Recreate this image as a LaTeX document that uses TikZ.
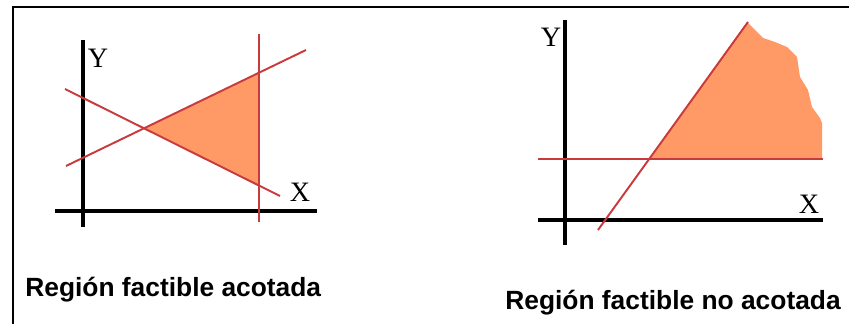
\documentclass[tikz,border=0pt]{standalone}
\usepackage{fontspec}
\setmainfont{Liberation Serif}
\newfontfamily\labelfont{Liberation Sans}
\definecolor{regcol}{HTML}{FF9966}
\definecolor{rectcol}{HTML}{C83A3C}
\begin{document}
\begin{tikzpicture}[x=0.02cm,y=-0.02cm,
  eje/.style={line width=2.2pt,color=black},
  recta/.style={line width=1.1pt,color=rectcol},
  nomeje/.style={font=\fontsize{16}{18}\selectfont,inner sep=0pt},
  titulo/.style={font=\labelfont\bfseries\fontsize{15}{18}\selectfont,inner sep=0pt}]
  \useasboundingbox (0,0) rectangle (849,324);
  % marco
  \draw[line width=1.2pt] (13,324) -- (13,7) -- (849,7);

  % region acotada
  \fill[regcol] (144,128) -- (259,73) -- (259,185) -- cycle;
  \draw[eje] (83,40) -- (83,227);
  \draw[eje] (55,211) -- (317,211);
  \draw[recta] (259,34) -- (259,222);
  \draw[recta] (66,166) -- (306,50);
  \draw[recta] (65,89) -- (280,196);
  \node[nomeje] (y1) at (98,58) {Y};
  \node[nomeje] (x1) at (300,192) {X};
  \node[titulo,anchor=west] (t1) at (25,290) {Región factible acotada};

  % region no acotada
  \fill[regcol] (649,159) -- (747,22) -- (755,30) -- (763,38) -- (775,42)
    -- (787,47) -- (797,57) -- (800,77) -- (808,90) -- (812,107)
    -- (820,118) -- (822,123) -- (822,159) -- cycle;
  \draw[eje] (565,20) -- (565,245);
  \draw[eje] (538,220) -- (823,220);
  \draw[recta] (538,159) -- (823,159);
  \draw[recta] (598,230) -- (748,22);
  \node[nomeje] (y2) at (551,37) {Y};
  \node[nomeje] (x2) at (809,204) {X};
  \node[titulo,anchor=west] (t2) at (505,303) {Región factible no acotada};
\end{tikzpicture}
\end{document}
